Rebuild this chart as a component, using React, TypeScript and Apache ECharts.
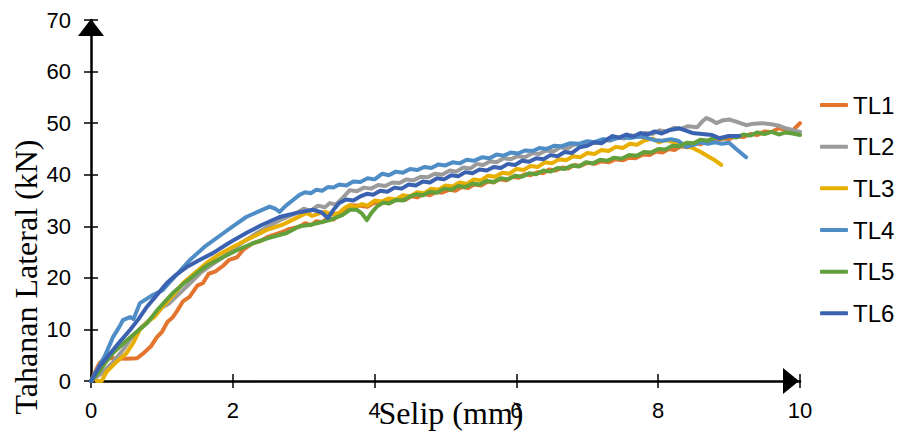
import React, { useEffect, useRef } from 'react';
import * as echarts from 'echarts';

const seriesNames = ['TL1', 'TL2', 'TL3', 'TL4', 'TL5', 'TL6'];
const seriesColors = ['#E3752E', '#9B9B9B', '#E8AE00', '#4F8DC6', '#62A03C', '#3A62B0'];

const xTickValues = [0, 2, 4, 6, 8, 10];
const yTickValues = [0, 10, 20, 30, 40, 50, 60, 70];

const tl1 = [
  [0, 0], [0.05, 1.5], [0.12, 3.5], [0.2, 4.4], [0.35, 4.4], [0.5, 4.3], [0.65, 4.4], [0.75, 5.5], [0.85, 6.8],
  [0.93, 8.5], [1.0, 9.5], [1.08, 11.5], [1.15, 12.3], [1.21, 13.5], [1.3, 15.5], [1.39, 16.3], [1.5, 18.5],
  [1.58, 19.0], [1.66, 20.8], [1.75, 21.2], [1.86, 22.3], [1.95, 23.5], [2.06, 24.0], [2.15, 25.5], [2.28, 26.7],
  [2.4, 27.2], [2.5, 28.0], [2.66, 28.7], [2.8, 29.5], [2.94, 29.9], [3.02, 30.6], [3.1, 30.2], [3.18, 31.0],
  [3.26, 30.8], [3.34, 31.6], [3.42, 31.3], [3.5, 32.4], [3.6, 33.2], [3.65, 34.1], [3.8, 34.0], [3.9, 33.8],
  [4.0, 34.6], [4.08, 34.3], [4.16, 35.0], [4.25, 34.8], [4.35, 35.4], [4.43, 35.1], [4.52, 35.8], [4.6, 35.6],
  [4.7, 36.3], [4.78, 36.0], [4.87, 36.7], [4.95, 36.5], [5.06, 37.1], [5.14, 36.9], [5.23, 37.6], [5.32, 37.4],
  [5.4, 38.1], [5.5, 37.9], [5.6, 38.7], [5.68, 38.5], [5.76, 39.1], [5.85, 38.9], [5.95, 39.6], [6.03, 39.4],
  [6.12, 40.1], [6.2, 39.9], [6.3, 40.5], [6.38, 40.3], [6.46, 41.0], [6.55, 40.8], [6.65, 41.4], [6.73, 41.2],
  [6.82, 41.9], [6.9, 41.7], [7.0, 42.3], [7.1, 42.1], [7.2, 42.6], [7.3, 42.4], [7.4, 43.0], [7.5, 42.8],
  [7.59, 43.3], [7.68, 43.2], [7.78, 43.9], [7.88, 43.8], [7.97, 44.5], [8.06, 44.3], [8.15, 45.0], [8.23, 44.8],
  [8.32, 45.5], [8.42, 45.3], [8.52, 46.1], [8.6, 45.9], [8.7, 46.6], [8.8, 46.4], [8.9, 47.0], [9.0, 46.9],
  [9.1, 47.5], [9.2, 47.3], [9.3, 47.9], [9.4, 47.7], [9.5, 48.4], [9.6, 48.3], [9.7, 49.0], [9.8, 48.7],
  [9.89, 48.5], [9.95, 49.3], [10, 50],
];

const tl2 = [
  [0, 0], [0.15, 1.5], [0.3, 3.5], [0.45, 6.0], [0.55, 8.0], [0.7, 10.3], [0.87, 12.4], [1.0, 14.2], [1.1, 15.0],
  [1.25, 17.0], [1.4, 19.0], [1.54, 20.9], [1.7, 22.5], [1.86, 24.0], [2.0, 25.6], [2.15, 27.0], [2.34, 28.7],
  [2.5, 30.0], [2.7, 31.4], [2.9, 32.6], [3.0, 33.4], [3.1, 33.0], [3.2, 34.0], [3.3, 33.7], [3.37, 34.5],
  [3.45, 34.2], [3.55, 35.5], [3.65, 37.0], [3.75, 36.8], [3.85, 37.5], [3.95, 37.3], [4.05, 38.0], [4.15, 37.8],
  [4.25, 38.5], [4.35, 38.4], [4.45, 39.1], [4.55, 38.9], [4.65, 39.6], [4.75, 39.5], [4.85, 40.2], [4.95, 40.0],
  [5.06, 40.8], [5.15, 40.6], [5.25, 41.4], [5.35, 41.2], [5.44, 42.1], [5.53, 41.9], [5.63, 42.6], [5.72, 42.4],
  [5.82, 43.2], [5.92, 43.0], [6.02, 43.6], [6.12, 43.4], [6.23, 44.2], [6.32, 44.0], [6.42, 44.7], [6.52, 44.5],
  [6.62, 45.3], [6.72, 45.1], [6.82, 45.9], [6.92, 45.7], [7.02, 46.3], [7.12, 46.1], [7.22, 46.8], [7.32, 46.6],
  [7.42, 47.2], [7.52, 47.0], [7.62, 47.6], [7.72, 47.4], [7.82, 48.1], [7.92, 47.9], [8.02, 48.6], [8.12, 48.4],
  [8.22, 49.1], [8.32, 48.9], [8.42, 49.4], [8.55, 49.2], [8.62, 50.3], [8.68, 51.0], [8.75, 50.6], [8.82, 50.0],
  [8.9, 50.5], [9.0, 50.7], [9.1, 50.3], [9.24, 49.6], [9.35, 49.9], [9.47, 50.0], [9.6, 49.8], [9.7, 49.5],
  [9.8, 49.0], [9.89, 48.7], [10, 48.3],
];

const tl3 = [
  [0.08, 0], [0.15, 0], [0.22, 1.8], [0.36, 3.7], [0.5, 5.4], [0.6, 7.5], [0.69, 10.0], [0.8, 11.5], [0.9, 12.5],
  [1.01, 14.4], [1.15, 16.5], [1.3, 19.0], [1.45, 20.8], [1.63, 22.9], [1.8, 24.5], [2.0, 26.0], [2.2, 27.4],
  [2.48, 29.3], [2.7, 30.3], [2.85, 31.3], [3.04, 32.6], [3.12, 32.0], [3.2, 32.4], [3.3, 32.8], [3.4, 32.3],
  [3.5, 32.6], [3.58, 33.6], [3.65, 34.1], [3.73, 33.7], [3.82, 34.3], [3.9, 34.0], [4.0, 35.0], [4.1, 34.8],
  [4.2, 35.4], [4.3, 35.2], [4.4, 36.0], [4.5, 35.8], [4.6, 36.6], [4.7, 36.4], [4.8, 37.3], [4.9, 37.1],
  [5.0, 37.9], [5.1, 37.7], [5.2, 38.5], [5.3, 38.2], [5.4, 39.1], [5.5, 38.9], [5.6, 39.8], [5.7, 39.6],
  [5.8, 40.4], [5.9, 40.2], [6.0, 41.1], [6.1, 40.9], [6.2, 41.7], [6.3, 41.5], [6.4, 42.4], [6.5, 42.2],
  [6.6, 43.0], [6.7, 42.8], [6.8, 43.6], [6.9, 43.4], [7.0, 44.2], [7.1, 44.0], [7.2, 44.8], [7.3, 44.6],
  [7.4, 45.4], [7.5, 45.2], [7.6, 46.0], [7.7, 45.8], [7.8, 46.6], [7.92, 47.0], [8.01, 46.3], [8.1, 46.7],
  [8.2, 46.4], [8.3, 46.2], [8.4, 45.7], [8.5, 45.1], [8.6, 44.4], [8.7, 43.6], [8.8, 42.8], [8.89, 41.9],
];

const tl4 = [
  [0, 0], [0.1, 2.5], [0.2, 5.0], [0.31, 8.5], [0.4, 10.5], [0.45, 11.8], [0.55, 12.4], [0.6, 12.0], [0.69, 15.1],
  [0.85, 16.5], [1.01, 17.6], [1.2, 20.5], [1.39, 23.4], [1.6, 26.0], [1.86, 28.6], [2.0, 30.0], [2.19, 31.8],
  [2.35, 32.8], [2.52, 33.8], [2.6, 33.4], [2.66, 32.8], [2.75, 34.0], [2.85, 35.1], [2.94, 36.1], [3.02, 36.6],
  [3.1, 36.4], [3.18, 37.1], [3.26, 36.9], [3.34, 37.6], [3.42, 37.5], [3.5, 38.1], [3.6, 37.9], [3.7, 38.7],
  [3.8, 38.6], [3.9, 39.3], [4.0, 39.1], [4.11, 40.2], [4.2, 39.9], [4.3, 40.6], [4.4, 40.4], [4.5, 41.1],
  [4.6, 40.9], [4.7, 41.5], [4.8, 41.3], [4.9, 42.0], [5.0, 41.8], [5.1, 42.4], [5.2, 42.2], [5.3, 42.9],
  [5.4, 42.7], [5.52, 43.4], [5.62, 43.2], [5.72, 43.9], [5.82, 43.7], [5.92, 44.3], [6.02, 44.1], [6.12, 44.7],
  [6.23, 44.6], [6.33, 45.2], [6.43, 45.0], [6.53, 45.6], [6.63, 45.5], [6.75, 46.1], [6.89, 46.0], [7.0, 46.5],
  [7.1, 46.3], [7.22, 46.9], [7.35, 46.8], [7.48, 47.3], [7.6, 47.1], [7.72, 47.4], [7.83, 47.2], [7.95, 46.7],
  [8.06, 46.6], [8.18, 46.9], [8.28, 46.6], [8.39, 45.4], [8.5, 45.8], [8.6, 46.3], [8.7, 46.0], [8.8, 46.3],
  [8.9, 46.0], [9.0, 46.2], [9.1, 45.0], [9.24, 43.4],
];

const tl5 = [
  [0, 0], [0.1, 1.5], [0.2, 3.5], [0.31, 5.4], [0.45, 7.2], [0.6, 9.0], [0.79, 11.2], [0.95, 14.0], [1.15, 17.0],
  [1.3, 18.8], [1.49, 20.9], [1.65, 22.5], [1.86, 24.0], [2.05, 25.3], [2.28, 26.7], [2.5, 27.7], [2.76, 28.7],
  [2.94, 30.0], [3.1, 30.3], [3.37, 31.2], [3.55, 32.2], [3.65, 33.2], [3.75, 33.2], [3.82, 32.5], [3.89, 31.2],
  [3.95, 32.5], [4.03, 33.8], [4.12, 34.6], [4.2, 34.4], [4.3, 35.1], [4.4, 35.0], [4.5, 35.8], [4.59, 36.2],
  [4.68, 36.0], [4.78, 36.7], [4.88, 36.5], [4.98, 37.3], [5.08, 37.1], [5.18, 37.8], [5.28, 37.6], [5.38, 38.3],
  [5.48, 38.1], [5.58, 38.8], [5.68, 38.6], [5.78, 39.3], [5.88, 39.1], [5.98, 39.8], [6.08, 39.6], [6.18, 40.3],
  [6.28, 40.1], [6.38, 40.8], [6.48, 40.6], [6.58, 41.3], [6.68, 41.1], [6.78, 41.8], [6.88, 41.6], [6.98, 42.4],
  [7.08, 42.2], [7.18, 42.9], [7.28, 42.7], [7.38, 43.3], [7.48, 43.1], [7.59, 43.8], [7.7, 43.7], [7.8, 44.4],
  [7.9, 44.3], [8.0, 45.0], [8.1, 44.9], [8.2, 45.6], [8.3, 45.5], [8.4, 46.2], [8.5, 46.1], [8.6, 46.8],
  [8.7, 46.6], [8.8, 47.2], [8.9, 47.0], [9.0, 47.5], [9.1, 47.2], [9.2, 47.8], [9.3, 47.6], [9.4, 48.2],
  [9.5, 47.9], [9.6, 48.3], [9.7, 47.8], [9.8, 48.2], [9.9, 48.0], [10, 47.7],
];

const tl6 = [
  [0, 0], [0.12, 2.8], [0.25, 5.0], [0.4, 7.5], [0.55, 9.9], [0.67, 12.0], [0.79, 14.4], [0.93, 16.7], [1.07, 19.0],
  [1.2, 20.6], [1.35, 22.1], [1.55, 23.6], [1.72, 24.8], [1.95, 26.8], [2.19, 28.7], [2.4, 30.2], [2.66, 31.8],
  [2.9, 32.6], [3.13, 33.2], [3.25, 32.7], [3.34, 31.6], [3.42, 33.2], [3.5, 34.5], [3.6, 35.2], [3.7, 35.0],
  [3.8, 35.8], [3.89, 36.3], [3.98, 36.1], [4.08, 36.9], [4.18, 36.7], [4.28, 37.5], [4.38, 37.3], [4.48, 38.1],
  [4.58, 37.9], [4.68, 38.7], [4.78, 38.5], [4.88, 39.3], [4.98, 39.1], [5.08, 39.9], [5.18, 39.7], [5.28, 40.5],
  [5.38, 40.3], [5.48, 41.0], [5.58, 40.8], [5.68, 41.5], [5.78, 41.3], [5.88, 42.1], [5.98, 41.9], [6.08, 42.7],
  [6.18, 42.5], [6.28, 43.2], [6.38, 43.0], [6.48, 43.8], [6.58, 43.6], [6.68, 44.4], [6.78, 44.2], [6.89, 45.3],
  [7.0, 45.6], [7.1, 46.3], [7.2, 46.1], [7.35, 47.5], [7.45, 47.2], [7.55, 47.8], [7.65, 47.4], [7.75, 48.1],
  [7.85, 47.8], [7.95, 48.4], [8.05, 48.0], [8.15, 48.6], [8.3, 49.0], [8.4, 48.5], [8.48, 48.1], [8.62, 47.9],
  [8.76, 47.7], [8.86, 47.1], [9.0, 47.5], [9.14, 47.5],
];

const seriesData = [tl1, tl2, tl3, tl4, tl5, tl6];

export default function App() {
  const ref = useRef<HTMLDivElement>(null);

  useEffect(() => {
    if (!ref.current) return;
    const chart = echarts.init(ref.current, null, { renderer: 'svg' });
    const xMin = xTickValues[0];
    const xMax = xTickValues[xTickValues.length - 1];
    const xInterval = xTickValues[1] - xTickValues[0];
    const yMin = yTickValues[0];
    const yMax = yTickValues[yTickValues.length - 1];
    const yInterval = yTickValues[1] - yTickValues[0];
    const tickStyle = { color: '#000', width: 1.5 };
    const labelFont = { fontSize: 22, color: '#000', fontFamily: '"Liberation Sans", Arial, sans-serif' };

    chart.setOption({
      animation: false,
      backgroundColor: '#fff',
      grid: { left: 91, right: 120, top: 20, bottom: 53, containLabel: false },
      xAxis: [
        {
          type: 'value', position: 'bottom', min: xMin, max: xMax, interval: xInterval,
          axisLine: { show: true, onZero: false, lineStyle: { color: '#000', width: 2.5 } },
          axisTick: { show: true, length: 7, lineStyle: tickStyle },
          axisLabel: { ...labelFont, margin: 18 },
          splitLine: { show: false },
        },
        {
          type: 'value', position: 'bottom', min: xMin, max: xMax, interval: xInterval,
          axisLine: { show: false, onZero: false },
          axisTick: { show: true, inside: true, length: 7, lineStyle: tickStyle },
          axisLabel: { show: false },
          splitLine: { show: false },
        },
      ],
      yAxis: [
        {
          type: 'value', position: 'left', min: yMin, max: yMax, interval: yInterval,
          axisLine: { show: true, onZero: false, lineStyle: { color: '#000', width: 2.5 } },
          axisTick: { show: true, length: 7, lineStyle: tickStyle },
          axisLabel: { ...labelFont, margin: 20 },
          splitLine: { show: false },
        },
        {
          type: 'value', position: 'left', min: yMin, max: yMax, interval: yInterval,
          axisLine: { show: false, onZero: false },
          axisTick: { show: true, inside: true, length: 7, lineStyle: tickStyle },
          axisLabel: { show: false },
          splitLine: { show: false },
        },
      ],
      legend: {
        orient: 'vertical',
        left: 815,
        top: 88,
        itemWidth: 28,
        itemHeight: 4,
        itemGap: 17.67,
        icon: 'roundRect',
        data: seriesNames,
        textStyle: { fontSize: 24, lineHeight: 24, color: '#000', fontFamily: '"Liberation Sans", Arial, sans-serif' },
      },
      series: seriesNames.map((name, i) => ({
        type: 'line',
        name,
        data: seriesData[i],
        xAxisIndex: 0,
        yAxisIndex: 0,
        symbol: 'none',
        showSymbol: false,
        smooth: false,
        color: seriesColors[i],
        itemStyle: { color: seriesColors[i] },
        lineStyle: { width: 4, color: seriesColors[i], cap: 'round', join: 'round' },
      })),
      graphic: [
        { type: 'polygon', z: 100, shape: { points: [[91, 19], [78, 36], [104, 36]] }, style: { fill: '#000' } },
        { type: 'polygon', z: 100, shape: { points: [[799, 381], [783, 368], [783, 394]] }, style: { fill: '#000' } },
        {
          type: 'text', x: 451, y: 413, z: 100,
          style: { text: 'Selip (mm)', fontSize: 32, fontFamily: '"Liberation Serif", "Times New Roman", serif', fill: '#000', align: 'center', verticalAlign: 'middle' },
        },
        {
          type: 'text', x: 26, y: 277, rotation: Math.PI / 2, z: 100,
          style: { text: 'Tahanan Lateral (kN)', fontSize: 32, fontFamily: '"Liberation Serif", "Times New Roman", serif', fill: '#000', align: 'center', verticalAlign: 'middle' },
        },
      ],
    });

    return () => chart.dispose();
  }, []);

  return (
    <div
      ref={ref}
      style={{ position: 'fixed', left: 0, top: 0, width: 920, height: 434, background: '#fff' }}
    />
  );
}
